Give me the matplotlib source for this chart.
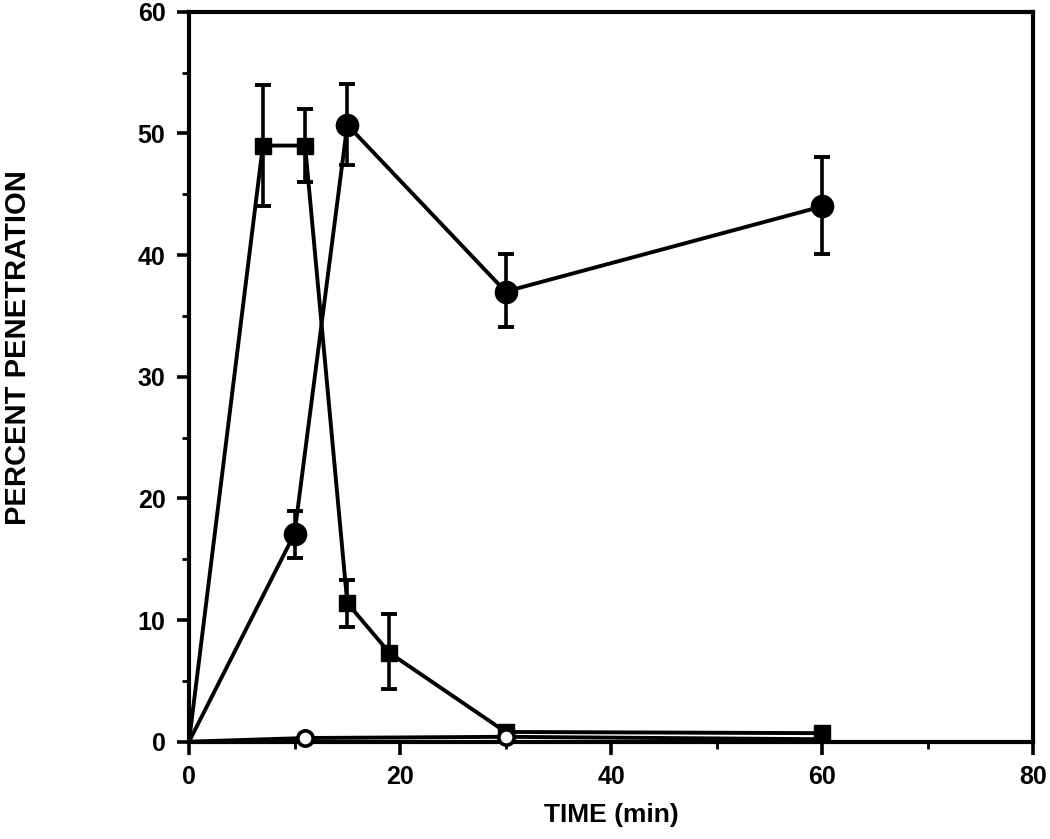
# Percent penetration vs time, three series with error bars
import matplotlib.pyplot as plt

# ------------------------------------------
# DATA
# ------------------------------------------
sq_time = [0, 7, 11, 15, 19, 30, 60]
sq_pct = [0, 49.0, 49.0, 11.4, 7.3, 0.8, 0.7]
sq_err_lo = [0, 5.0, 3.0, 2.0, 3.0, 0, 0]
sq_err_hi = [0, 5.0, 3.0, 1.9, 3.2, 0, 0]

dot_time = [0, 10, 15, 30, 60]
dot_pct = [0, 17.1, 50.7, 37.0, 44.0]
dot_err_lo = [0, 2.0, 3.3, 2.9, 3.9]
dot_err_hi = [0, 1.9, 3.4, 3.1, 4.1]

open_time = [0, 11, 30, 60]
open_pct = [0, 0.3, 0.4, 0.2]

x_ticks = [0, 20, 40, 60, 80]
y_ticks = [0, 10, 20, 30, 40, 50, 60]

# ------------------------------------------
# FIGURE
# ------------------------------------------
plt.rcParams['font.family'] = ['Liberation Sans', 'DejaVu Sans']
plt.rcParams['font.weight'] = 'bold'

fig = plt.figure(figsize=(10.5, 8.39), dpi=100)
ax = fig.add_axes([0.180, 0.116, 0.804, 0.870])

lw = 2.8

ax.errorbar(sq_time, sq_pct, yerr=[sq_err_lo, sq_err_hi], color='black',
            marker='s', markersize=12, markevery=slice(1, None),
            linewidth=lw, elinewidth=2.6, capsize=6, capthick=2.8, zorder=3)
ax.errorbar(dot_time, dot_pct, yerr=[dot_err_lo, dot_err_hi], color='black',
            marker='o', markersize=16, markevery=slice(1, None),
            linewidth=lw, elinewidth=2.6, capsize=6, capthick=2.8, zorder=4)
ax.plot(open_time, open_pct, color='black', marker='o', markersize=11,
        markevery=[1, 2], markerfacecolor='white', markeredgewidth=2.6,
        linewidth=lw, zorder=5, clip_on=False)

ax.set_xlim(0, 80)
ax.set_ylim(0, 60)
ax.set_xticks(x_ticks)
ax.set_yticks(y_ticks)
ax.set_xticks([10, 30, 50, 70], minor=True)
ax.set_yticks([5, 15, 25, 35, 45, 55], minor=True)
ax.tick_params(which='major', direction='out', length=9, width=2.6,
               labelsize=18, pad=8)
ax.tick_params(which='minor', direction='out', length=5, width=2)

for spine in ax.spines.values():
    spine.set_linewidth(3)

ax.set_xlabel("TIME (min)", fontsize=19, fontweight='bold', labelpad=10)
fig.text(18 / 1050, 1 - 348 / 839, "PERCENT PENETRATION", rotation=90,
         fontsize=21, fontweight='bold', ha='center', va='center')

fig.savefig("out.png", dpi=100)
